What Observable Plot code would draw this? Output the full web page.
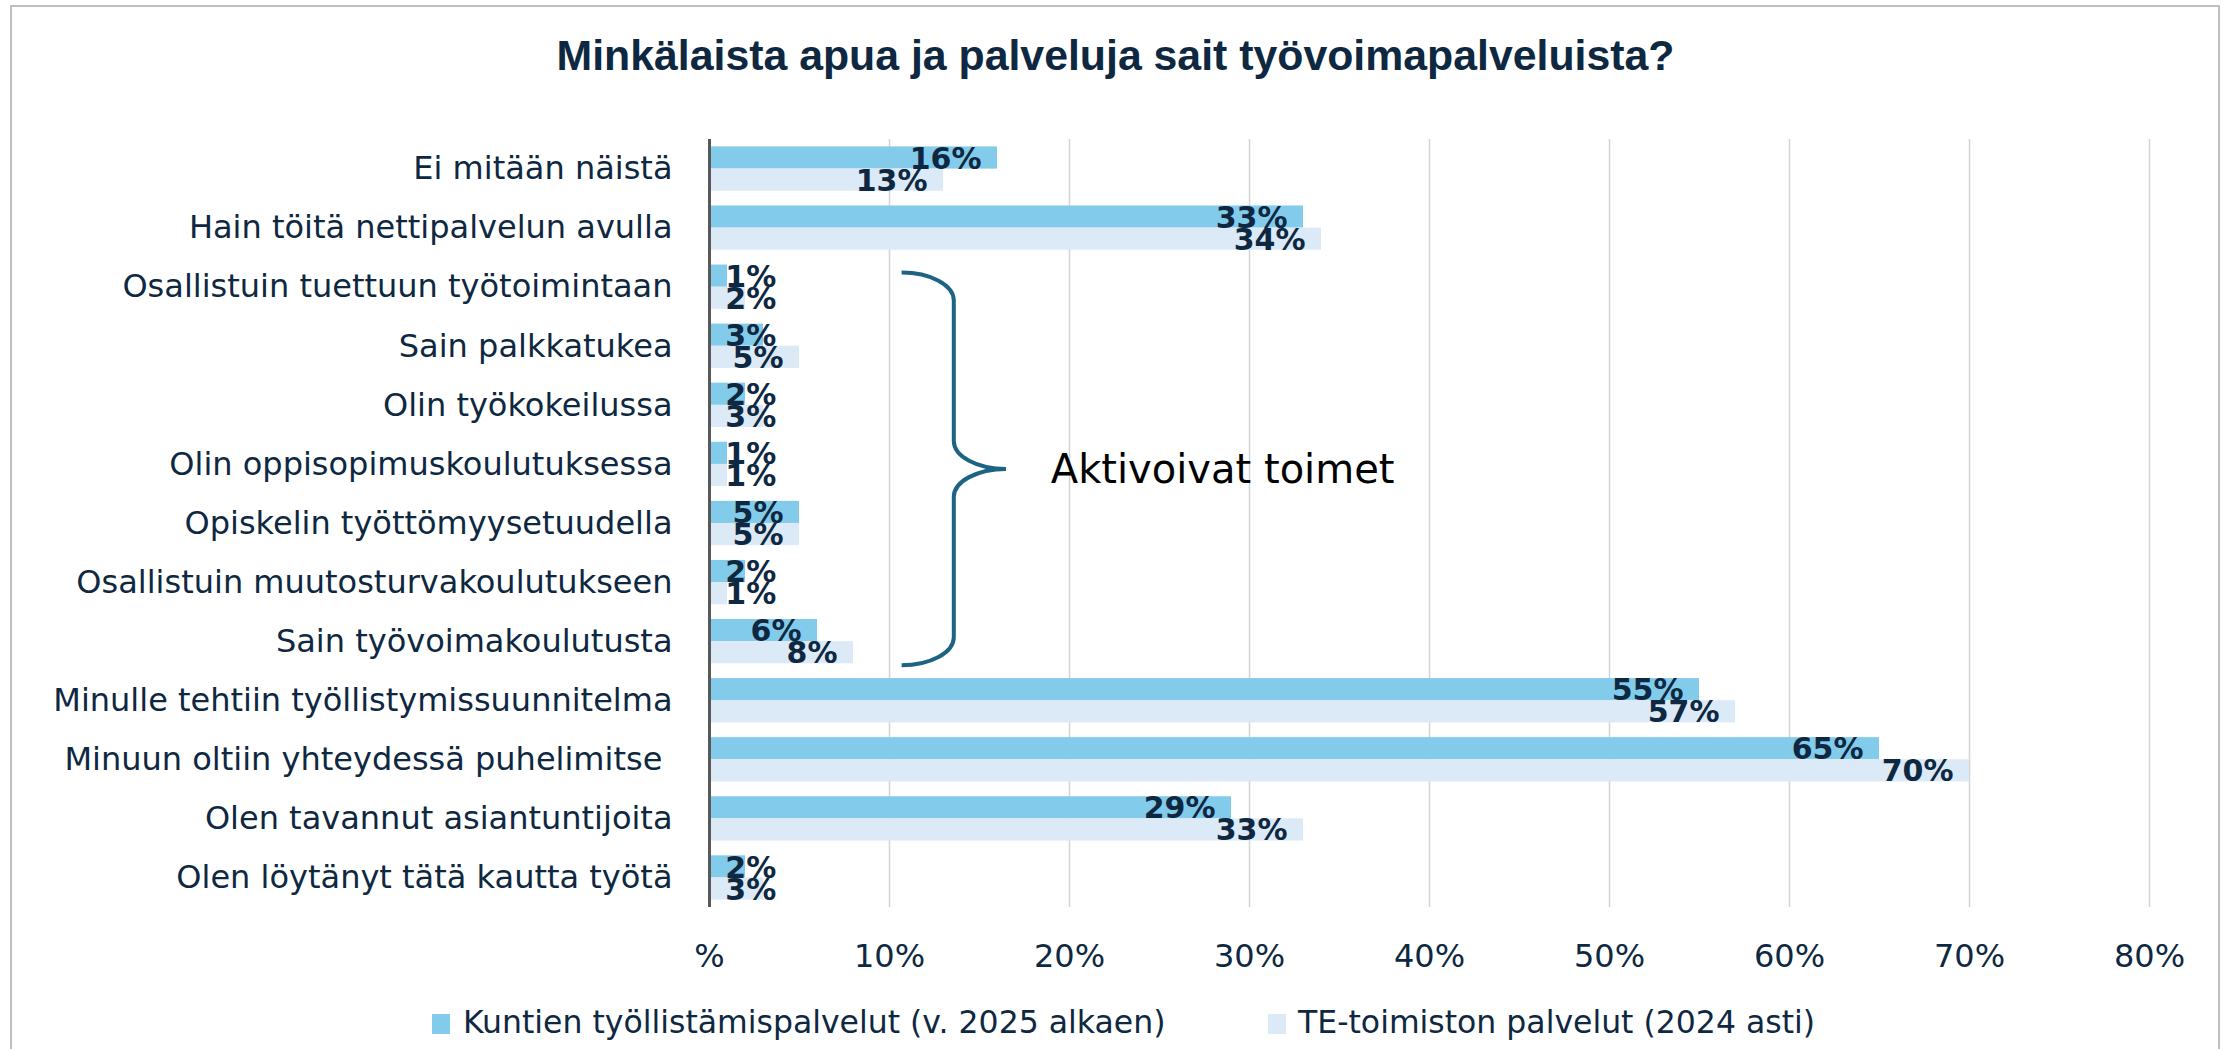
<!DOCTYPE html>
<html><head><meta charset="utf-8">
<script src="https://cdn.jsdelivr.net/npm/d3@7"></script>
<script src="https://cdn.jsdelivr.net/npm/@observablehq/plot@0.6"></script>
<style>
html,body{margin:0;padding:0;background:#fff;}
#wrap{position:relative;width:2231px;height:1049px;overflow:hidden;background:#fff;}
#frame{position:absolute;left:10px;top:5px;width:2206px;height:1100px;border:2px solid #bfbfbf;}
#title{position:absolute;left:0;top:34px;width:2231px;text-align:center;font-family:"Liberation Sans",Arial,sans-serif;font-weight:bold;font-size:42.8px;line-height:42px;color:#0E2841;white-space:nowrap;}
#chart{position:absolute;left:0;top:0;}
.leg{position:absolute;font-family:"DejaVu Sans",sans-serif;font-size:31.5px;line-height:32px;color:#0E2841;white-space:nowrap;}
.sw{position:absolute;width:18px;height:20px;}
</style></head>
<body>
<div id="wrap">
  <div id="frame"></div>
  <div id="chart"></div>
  <div id="title"></div>
  <div id="legend"></div>
</div>
<script>
const chartTitle = "Minkälaista apua ja palveluja sait työvoimapalveluista?";
const categories = [
  "Ei mitään näistä",
  "Hain töitä nettipalvelun avulla",
  "Osallistuin tuettuun työtoimintaan",
  "Sain palkkatukea",
  "Olin työkokeilussa",
  "Olin oppisopimuskoulutuksessa",
  "Opiskelin työttömyysetuudella",
  "Osallistuin muutosturvakoulutukseen",
  "Sain työvoimakoulutusta",
  "Minulle tehtiin työllistymissuunnitelma",
  "Minuun oltiin yhteydessä puhelimitse ",
  "Olen tavannut asiantuntijoita",
  "Olen löytänyt tätä kautta työtä"
];
const seriesNames = ["Kuntien työllistämispalvelut (v. 2025 alkaen)", "TE-toimiston palvelut (2024 asti)"];
const kuntaValues = [16, 33, 1, 3, 2, 1, 5, 2, 6, 55, 65, 29, 2];
const teValues    = [13, 34, 2, 5, 3, 1, 5, 1, 8, 57, 70, 33, 3];
const xTicks = [0, 10, 20, 30, 40, 50, 60, 70, 80];
const xTickLabels = ["%", "10%", "20%", "30%", "40%", "50%", "60%", "70%", "80%"];
const annotationText = "Aktivoivat toimet";
const bracketFrom = "Osallistuin tuettuun työtoimintaan";
const bracketTo = "Sain työvoimakoulutusta";
const annotationRow = "Olin oppisopimuskoulutuksessa";

const colors = ["#83CBEB", "#DCEAF7"];
const textColor = "#0E2841";

document.getElementById("title").textContent = chartTitle;

const rows = categories.map((c, i) => ({category: c, kunta: kuntaValues[i], te: teValues[i]}));
const labelMin = 4.6; // labels of tiny bars stay readable (like Excel "inside end" clamping)

const plot = Plot.plot({
  width: 2231,
  height: 1000,
  marginTop: 139,
  marginBottom: 93,
  marginLeft: 709,
  marginRight: 82,
  style: {fontFamily: "DejaVu Sans, sans-serif", fontSize: "32px", color: textColor, background: "transparent", overflow: "visible"},
  x: {domain: [0, 80], ticks: xTicks, tickFormat: d => xTickLabels[xTicks.indexOf(d)], tickSize: 0, tickPadding: 37, label: null},
  y: {domain: categories, paddingInner: 0.25, paddingOuter: 0.125, round: false, tickSize: 0, tickPadding: 37, label: null},
  marks: [
    Plot.ruleX(xTicks.slice(1), {stroke: "#d4d4d4", strokeWidth: 1.5}),
    Plot.barX(rows, {y: "category", x: "kunta", fill: colors[0], insetBottom: 22.1}),
    Plot.barX(rows, {y: "category", x: "te", fill: colors[1], insetTop: 22.1}),
    Plot.ruleX([0], {stroke: "#595959", strokeWidth: 3}),
    Plot.text(rows, {y: "category", x: d => Math.max(d.kunta, labelMin), text: d => d.kunta + "%", textAnchor: "end", dx: -16, dy: -10, fontWeight: "bold", fontSize: 30, fill: textColor}),
    Plot.text(rows, {y: "category", x: d => Math.max(d.te, labelMin), text: d => d.te + "%", textAnchor: "end", dx: -16, dy: 12, fontWeight: "bold", fontSize: 30, fill: textColor}),
    Plot.text([{t: annotationText, c: annotationRow}], {y: "c", x: () => 18.96, text: "t", textAnchor: "start", dy: 6, fontSize: 40, fill: "#000"})
  ]
});

// brace annotation, positioned through the plot's scales
const xs = plot.scale("x"), ys = plot.scale("y");
const braceX = [10.7, 13.6, 16.5];
const x0 = xs.apply(braceX[0]), x1 = xs.apply(braceX[1]), xt = xs.apply(braceX[2]);
const yTop = ys.apply(bracketFrom) + 8;
const yBot = ys.apply(bracketTo) + ys.bandwidth + 2;
const yMid = (yTop + yBot) / 2;
const r = 28;
const rx1 = x1 - x0, rx2 = xt - x1;
const d = `M${x0},${yTop} A${rx1},${r} 0 0 1 ${x1},${yTop + r} L${x1},${yMid - r} A${rx2},${r} 0 0 0 ${xt},${yMid} A${rx2},${r} 0 0 0 ${x1},${yMid + r} L${x1},${yBot - r} A${rx1},${r} 0 0 1 ${x0},${yBot}`;
d3.select(plot).append("path").attr("d", d).attr("fill", "none").attr("stroke", "#1d6384").attr("stroke-width", 4);

document.getElementById("chart").appendChild(plot);

// legend
const legend = document.getElementById("legend");
const legPos = [[432, 463], [1268, 1298]];
seriesNames.forEach((name, i) => {
  const sw = document.createElement("div");
  sw.className = "sw";
  sw.style.left = legPos[i][0] + "px";
  sw.style.top = "1014px";
  sw.style.background = colors[i];
  legend.appendChild(sw);
  const t = document.createElement("div");
  t.className = "leg";
  t.style.left = legPos[i][1] + "px";
  t.style.top = "1006px";
  t.textContent = name;
  legend.appendChild(t);
});
</script>
</body></html>
